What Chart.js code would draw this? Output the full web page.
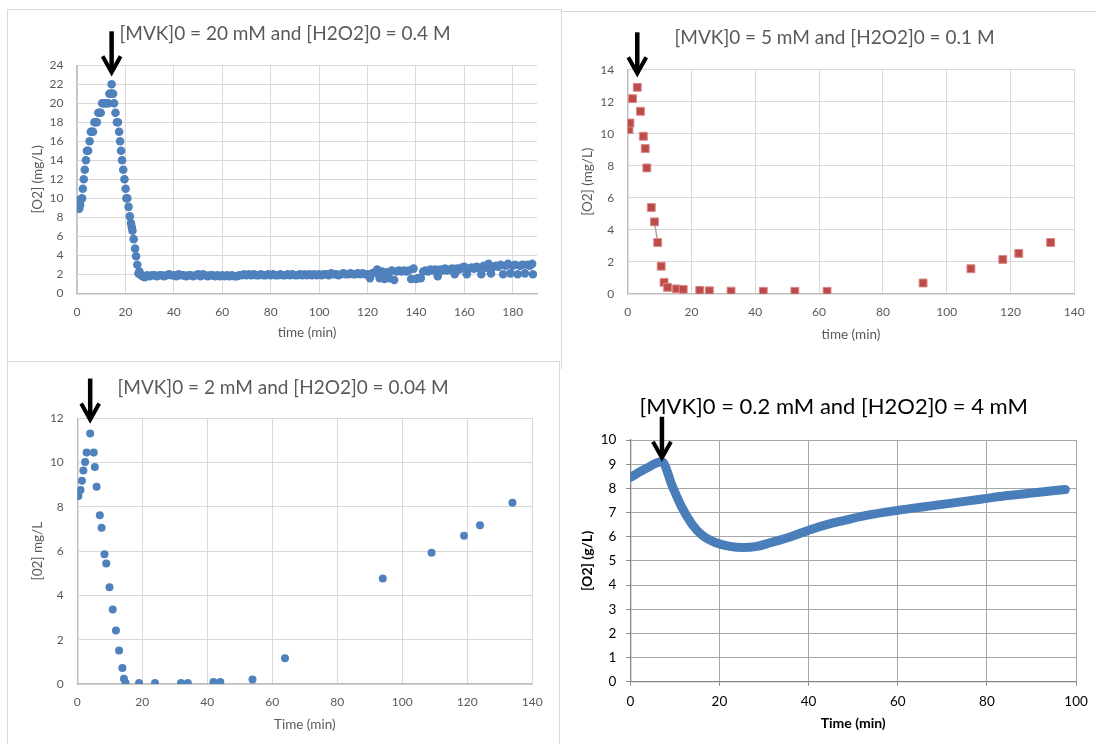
<!DOCTYPE html>
<html>
<head>
<meta charset="utf-8">
<script src="https://cdn.jsdelivr.net/npm/chart.js@4.4.0/dist/chart.umd.min.js"></script>
<style>
    body { margin: 0; width: 1096px; height: 744px; background: #fff; position: relative; overflow: hidden; }
    canvas { position: absolute; }
    .frame { position: absolute; border: 1px solid #d9d9d9; box-sizing: border-box; }
</style>
</head>
<body>
<div class="frame" style="left:7px;top:9px;width:555px;height:360px;border-bottom:none"></div>
<div class="frame" style="left:7px;top:361px;width:553px;height:400px"></div>
<div class="frame" style="left:560px;top:11px;width:540px;height:1px;border-width:1px 0 0 0"></div>

<canvas id="c1" width="560" height="360" style="left:0;top:0"></canvas>
<canvas id="c2" width="536" height="360" style="left:560px;top:0"></canvas>
<canvas id="c3" width="560" height="384" style="left:0;top:360px"></canvas>
<canvas id="c4" width="536" height="364" style="left:560px;top:380px"></canvas>

<script>
// [MVK]0 = 20 mM, [H2O2]0 = 0.4 M
const time20mM = [
    0, 0.3, 0.6, 0.9, 1.3, 1.7, 2.1, 2.4, 2.8, 3.2,
    3.7, 4.1, 4.6, 5.2, 5.7, 6.1, 6.6, 7.2, 7.7, 8.2,
    8.8, 9.3, 9.8, 10.4, 10.9, 11.4, 11.9, 12.4, 12.9, 13.4,
    13.7, 14.0, 14.3, 14.6, 14.9, 15.3, 15.9, 16.5, 16.9, 17.4,
    17.8, 18.2, 18.6, 19.1, 19.6, 20.1, 20.4, 20.8, 21.3, 21.8,
    22.3, 22.6, 22.9, 23.4, 24.0, 24.4, 24.9, 25.4, 25.8,
    26, 27, 28, 29, 30, 31, 32, 33, 34, 35,
    36, 37, 38, 39, 40, 41, 42, 43, 44, 45,
    46, 47, 48, 49, 50, 51, 52, 53, 54, 55,
    56, 57, 58, 59, 60, 61, 62, 63, 64, 65,
    66, 67, 68, 69, 70, 71, 72, 73, 74, 75,
    76, 77, 78, 79, 80, 81, 82, 83, 84, 85,
    86, 87, 88, 89, 90, 91, 92, 93, 94, 95,
    96, 97, 98, 99, 100, 101, 102, 103, 104, 105,
    106, 107, 108, 109, 110, 111, 112, 113, 114, 115,
    116, 117, 118, 119, 120, 121, 122, 123, 124, 125,
    126, 127, 128, 129, 130, 131, 132, 133, 134, 135,
    136, 137, 138, 139, 140, 141, 142, 143, 144, 145,
    146, 147, 148, 149, 150, 151, 152, 153, 154, 155,
    156, 157, 158, 159, 160, 161, 162, 163, 164, 165,
    166, 167, 168, 169, 170, 171, 172, 173, 174, 175,
    176, 177, 178, 179, 180, 181, 182, 183, 184, 185,
    186, 187, 188, 188.3
];
const o2_20mM = [
    9.7, 9.8, 9.1, 8.9, 9.3, 9.9, 10.0, 11.0, 12.0, 13.0,
    14.0, 15.0, 15.0, 16.0, 17.0, 17.0, 17.0, 18.0, 18.0, 18.0,
    19.0, 19.0, 19.0, 20.0, 20.0, 20.0, 20.0, 20.0, 20.0, 21.0,
    21.0, 21.0, 22.0, 21.0, 21.0, 20.0, 19.0, 18.0, 18.0, 17.0,
    16.0, 15.0, 14.0, 13.0, 12.0, 11.0, 10.0, 10.0, 9.1, 8.1,
    7.4, 7.0, 6.6, 5.7, 4.7, 3.9, 3.0, 2.1, 2.3,
    2.0, 1.8, 1.7, 1.9, 1.8, 1.9, 1.9, 1.8, 1.9, 1.9,
    1.8, 1.9, 2.0, 1.9, 1.9, 1.8, 2.0, 1.9, 1.9, 1.8,
    1.9, 1.9, 1.8, 1.9, 2.0, 1.8, 2.0, 1.9, 1.8, 1.9,
    1.9, 1.8, 1.9, 1.8, 1.9, 1.8, 1.9, 1.8, 1.9, 1.8,
    1.8, 1.9, 1.9, 2.0, 1.9, 2.0, 1.9, 2.0, 1.9, 1.9,
    2.0, 1.9, 1.9, 2.0, 1.9, 2.0, 1.9, 1.9, 2.0, 1.9,
    1.9, 2.0, 1.9, 2.0, 1.9, 1.9, 2.0, 1.9, 2.0, 1.9,
    2.0, 1.9, 2.0, 1.9, 2.0, 1.9, 2.0, 2.0, 1.9, 2.1,
    2.0, 2.0, 1.9, 2.0, 2.1, 2.0, 2.0, 2.1, 2.0, 2.0,
    2.1, 2.0, 2.1, 2.0, 2.0, 1.6, 2.1, 2.2, 2.5, 1.6,
    2.3, 1.5, 2.2, 1.6, 2.4, 1.4, 2.3, 2.4, 2.3, 2.4,
    2.3, 2.4, 1.5, 2.6, 1.5, 1.6, 1.6, 2.3, 2.4, 2.3,
    2.5, 2.4, 2.5, 1.8, 2.5, 2.4, 2.6, 2.4, 2.5, 2.6,
    2.0, 2.6, 2.5, 2.7, 2.8, 2.0, 2.6, 2.7, 2.6, 2.8,
    2.7, 2.0, 2.9, 2.7, 3.1, 2.1, 2.8, 2.9, 2.8, 3.0,
    2.0, 2.9, 3.1, 2.1, 2.9, 3.0, 2.0, 2.9, 3.0, 2.1,
    3.0, 2.9, 3.1, 2.0
];
const timeTicks20mM = [0, 20, 40, 60, 80, 100, 120, 140, 160, 180];

// [MVK]0 = 5 mM, [H2O2]0 = 0.1 M
const time5mM = [0.4, 0.7, 1.5, 3.0, 4.0, 4.9, 5.5, 6.0, 7.4, 8.4, 9.4, 10.5, 11.4, 12.5, 15.3, 17.4, 22.6, 25.6, 32.4, 42.5, 52.4, 62.5, 92.6, 107.6, 117.6, 122.6, 132.6];
const o2_5mM = [10.26, 10.67, 12.19, 12.9, 11.4, 9.84, 9.07, 7.86, 5.39, 4.49, 3.2, 1.72, 0.71, 0.4, 0.3, 0.27, 0.21, 0.18, 0.16, 0.15, 0.15, 0.15, 0.67, 1.56, 2.14, 2.52, 3.2];
const link5mM = [[8.4, 4.49], [9.4, 3.2]];

// [MVK]0 = 2 mM, [H2O2]0 = 0.04 M
const time2mM = [0.33, 1.0, 1.43, 1.87, 2.4, 2.86, 3.96, 5.06, 5.39, 5.94, 6.93, 7.48, 8.36, 8.91, 9.9, 10.9, 11.89, 12.85, 13.87, 14.35, 14.85, 19.0, 23.9, 31.9, 34.0, 41.9, 44.0, 53.9, 63.9, 94.0, 109.0, 119.0, 123.9, 133.9];
const o2_2mM = [8.49, 8.76, 9.18, 9.64, 10.03, 10.45, 11.31, 10.45, 9.8, 8.91, 7.62, 7.06, 5.86, 5.44, 4.37, 3.36, 2.42, 1.51, 0.72, 0.24, 0.04, 0.04, 0.04, 0.04, 0.04, 0.09, 0.09, 0.2, 1.16, 4.76, 5.93, 6.7, 7.17, 8.19];

// [MVK]0 = 0.2 mM, [H2O2]0 = 4 mM
const time02mM = [0, 3.3, 7.1, 9.4, 11.6, 13.9, 16.2, 19.2, 22.3, 25.3, 28.4, 31.4, 36, 40.5, 45.1, 49.7, 54.2, 60.3, 66.4, 72.5, 78.6, 84.6, 90.7, 97.6];
const o2_02mM = [8.45, 8.8, 9.1, 8.1, 7.2, 6.5, 6.05, 5.75, 5.6, 5.55, 5.6, 5.75, 6.0, 6.3, 6.55, 6.75, 6.92, 7.1, 7.25, 7.4, 7.55, 7.7, 7.82, 7.95];

const titles = [
    '[MVK]0 = 20 mM and [H2O2]0 = 0.4 M',
    '[MVK]0 = 5 mM and [H2O2]0 = 0.1 M',
    '[MVK]0 = 2 mM and [H2O2]0 = 0.04 M',
    '[MVK]0 = 0.2 mM and [H2O2]0 = 4 mM'
];
// where the arrow points (the maximum of each run)
const peaks = [[14.3, 22], [3.0, 12.9], [3.96, 11.31], [7.1, 9.1]];

const FONT = 'Lato, "Open Sans", sans-serif';
const BLUE = '#4f81bd';

const toPoints = (xs, ys) => xs.map((x, i) => ({ x: x, y: ys[i] }));

// title text + black arrow pointing at the peak
const notes = {
    id: 'notes',
    afterDraw(chart, args, o) {
        const { ctx, scales: { x, y } } = chart;
        ctx.save();
        ctx.font = o.font;
        ctx.fillStyle = o.color;
        ctx.textAlign = 'center';
        ctx.textBaseline = 'middle';
        ctx.fillText(o.text, o.tx, o.ty);

        const px = x.getPixelForValue(o.peak[0]);
        const tip = y.getPixelForValue(o.peak[1]) - o.gap;
        ctx.strokeStyle = '#000';
        ctx.lineWidth = 4.5;
        ctx.beginPath();
        ctx.moveTo(px, tip - 43);
        ctx.lineTo(px, tip - 3);
        ctx.stroke();
        ctx.lineWidth = 4;
        ctx.beginPath();
        ctx.moveTo(px - 9, tip - 18);
        ctx.lineTo(px, tip - 2);
        ctx.lineTo(px + 9, tip - 18);
        ctx.stroke();
        ctx.restore();
    }
};

const newStyle = (step, max, xTitle, yTitle, fit) => ({
    x: {
        type: 'linear', min: 0, max: max[0],
        afterFit: s => { s.height = fit.hx; },
        grid: { color: '#d9d9d9', drawTicks: false },
        border: { color: '#bfbfbf', width: 1.5 },
        ticks: { stepSize: step[0], padding: 11.3, color: '#595959', font: { family: FONT, size: 12 } },
        title: { display: true, text: xTitle, padding: 0, color: '#595959', font: { family: FONT, size: 13.5 } }
    },
    y: {
        min: 0, max: max[1],
        afterFit: s => { s.width = fit.wy; },
        grid: { color: '#d9d9d9', drawTicks: false },
        border: { color: '#bfbfbf', width: 1.5 },
        ticks: { stepSize: step[1], padding: 13.5, color: '#595959', font: { family: FONT, size: 12 } },
        title: { display: true, text: yTitle, padding: 0, color: '#595959', font: { family: FONT, size: 13.5 } }
    }
});

const baseOptions = (scales, pad, note) => ({
    responsive: false,
    animation: false,
    layout: { padding: pad },
    plugins: { legend: { display: false }, tooltip: { enabled: false }, notes: note },
    scales: scales
});

// chart 1: axis runs to 190 but is labelled only up to 180
const s1 = newStyle([20, 2], [190, 24], 'time (min)', '[O2] (mg/L)', { wy: 47.6, hx: 47.8 });
s1.x.afterBuildTicks = s => { s.ticks = timeTicks20mM.map(v => ({ value: v })); };

new Chart(document.getElementById('c1'), {
    type: 'scatter',
    data: {
        datasets: [{
            data: toPoints(time20mM, o2_20mM),
            pointRadius: 4.3, pointBackgroundColor: BLUE, pointBorderColor: BLUE, pointBorderWidth: 0
        }]
    },
    options: baseOptions(
        s1,
        { left: 29.4, top: 65.3, right: 23, bottom: 18.9 },
        { text: titles[0], tx: 285, ty: 34, font: '19px ' + FONT, color: '#595959', peak: peaks[0], gap: 10 }
    ),
    plugins: [notes]
});

// chart 2
new Chart(document.getElementById('c2'), {
    type: 'scatter',
    data: {
        datasets: [{
            data: toPoints(time5mM, o2_5mM),
            pointStyle: 'rect', pointRadius: 5.6,
            pointBackgroundColor: '#be4b48', pointBorderColor: '#d98d8b', pointBorderWidth: 1
        }, {
            data: link5mM.map(p => ({ x: p[0], y: p[1] })),
            showLine: true, borderColor: '#a6a6a6', borderWidth: 1.5, pointRadius: 0
        }]
    },
    options: baseOptions(
        newStyle([20, 2], [140, 14], 'time (min)', '[O2] (mg/L)', { wy: 47.8, hx: 48.7 }),
        { left: 19.9, top: 69.7, right: 13.3, bottom: 17.6 },
        { text: titles[1], tx: 274.5, ty: 37.5, font: '19px ' + FONT, color: '#595959', peak: peaks[1], gap: 12 }
    ),
    plugins: [notes]
});

// chart 3
new Chart(document.getElementById('c3'), {
    type: 'scatter',
    data: {
        datasets: [{
            data: toPoints(time2mM, o2_2mM),
            pointRadius: 4, pointBackgroundColor: BLUE, pointBorderColor: BLUE, pointBorderWidth: 0
        }]
    },
    options: baseOptions(
        newStyle([20, 2], [140, 12], 'Time (min)', '[02] mg/L', { wy: 47.8, hx: 48.4 }),
        { left: 29.5, top: 58.3, right: 27.7, bottom: 11.6 },
        { text: titles[2], tx: 283, ty: 27.5, font: '19px ' + FONT, color: '#595959', peak: peaks[2], gap: 12 }
    ),
    plugins: [notes]
});

// chart 4 (older Excel look: darker grid, outside tick marks, black bold titles)
const s4 = newStyle([20, 1], [100, 10], 'Time (min)', '[O2] (g/L)', { wy: 51.3, hx: 50.0 });
for (const k of ['x', 'y']) {
    s4[k].grid = { color: '#a6a6a6', drawTicks: true, tickLength: 4, tickColor: '#868686' };
    s4[k].border = { color: '#868686', width: 1.3 };
    s4[k].ticks.color = '#000';
    s4[k].ticks.font = { family: FONT, size: 13.5 };
    s4[k].title.color = '#000';
    s4[k].title.font = { family: FONT, size: 14, weight: 'bold' };
}
s4.x.ticks.padding = 8.2;
s4.y.ticks.padding = 10;

new Chart(document.getElementById('c4'), {
    type: 'scatter',
    data: {
        datasets: [{
            data: toPoints(time02mM, o2_02mM),
            showLine: true, cubicInterpolationMode: 'monotone',
            borderColor: '#4a7ebb', borderWidth: 9, borderCapStyle: 'round', borderJoinStyle: 'round',
            pointRadius: 0
        }]
    },
    options: baseOptions(
        s4,
        { left: 19.0, top: 60, right: 15.2, bottom: 12.3 },
        { text: titles[3], tx: 273.7, ty: 27, font: '22px ' + FONT, color: '#000', peak: peaks[3], gap: 2 }
    ),
    plugins: [notes]
});
</script>
</body>
</html>
